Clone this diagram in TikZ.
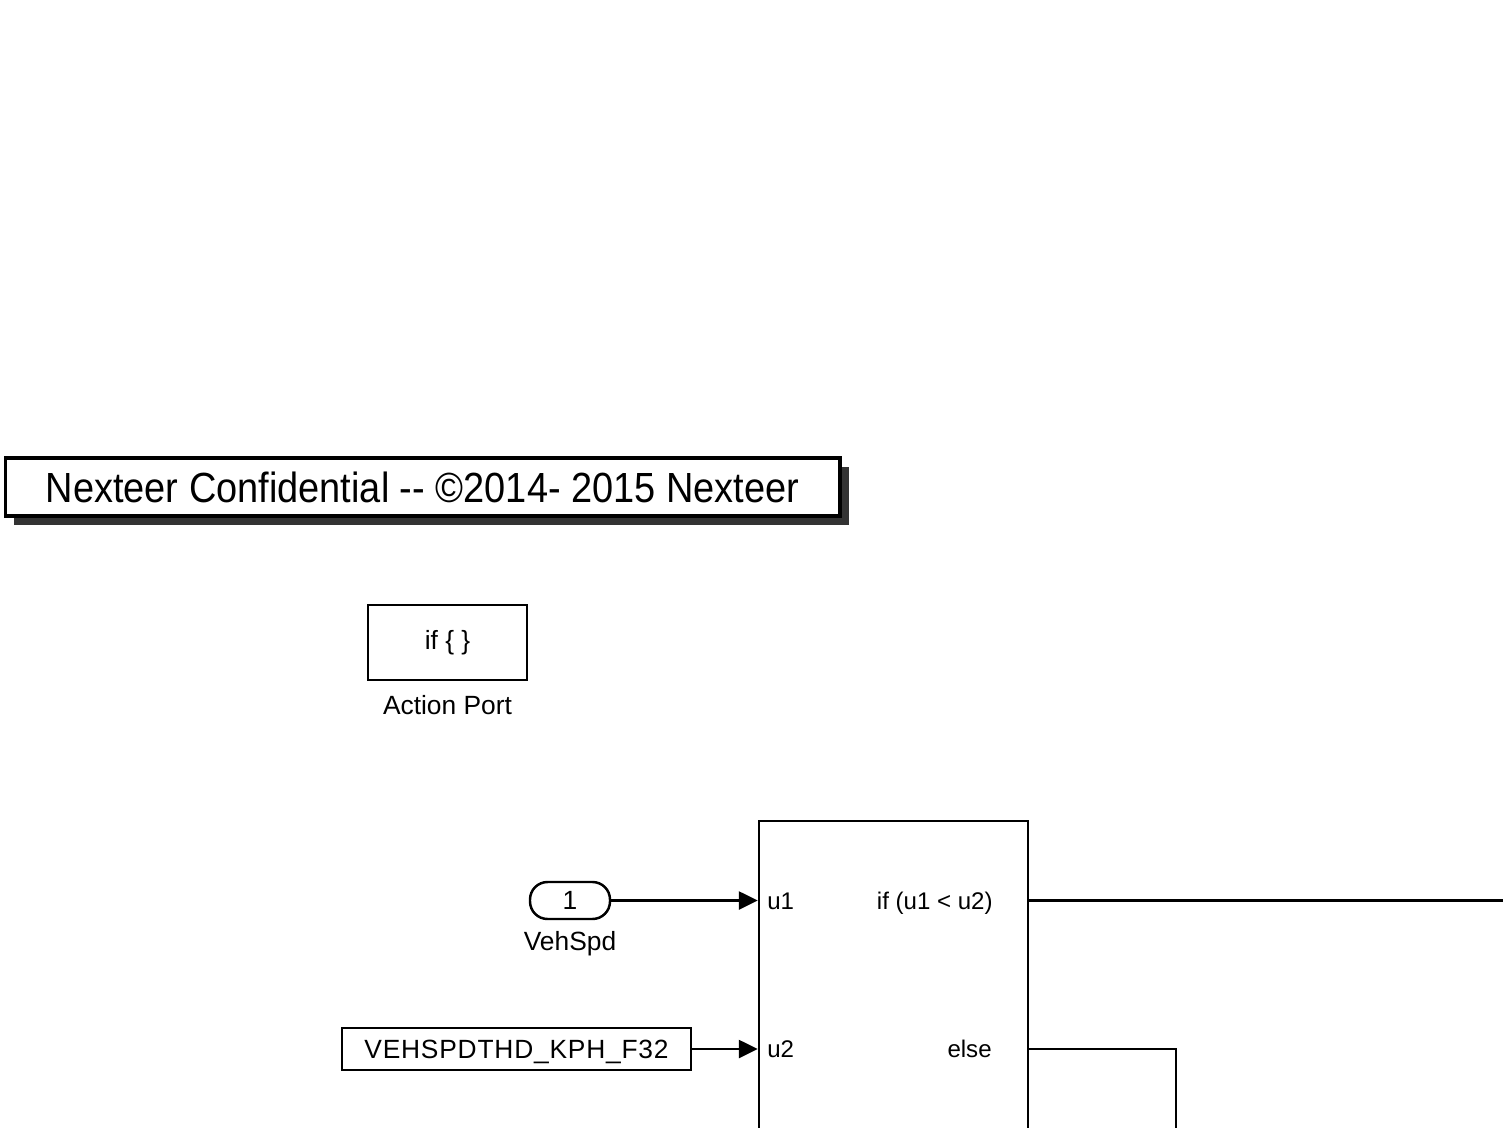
\documentclass[tikz,border=0pt]{standalone}
\usepackage{fontspec}
\setmainfont{Liberation Sans}
\newfontfamily\bannerfont[FakeStretch=0.9]{Liberation Sans}
\usetikzlibrary{arrows.meta,positioning,shadows}

\begin{document}
\begin{tikzpicture}[
  x=0.02cm, y=-0.02cm,
  font=\fontsize{15}{18}\selectfont,
  blk/.style={draw, line width=1.4pt, fill=white, inner sep=0pt, align=center},
  banner/.style={blk, line width=1.8pt, minimum width=16.7cm, minimum height=1.16cm, font=\bannerfont\fontsize{24}{28}\selectfont,
    drop shadow={shadow xshift=0.18cm, shadow yshift=-0.18cm, fill=black!80, opacity=1}},
  inport/.style={blk, rounded corners=0.35cm, minimum width=1.6cm, minimum height=0.74cm},
  lbl/.style={inner sep=0pt},
  portlbl/.style={inner sep=0pt, font=\fontsize{13.7}{16}\selectfont},
  sig/.style={line width=1.4pt, -{Triangle[length=0.38cm, width=0.36cm]}},
  wire/.style={line width=1.4pt}
]
\useasboundingbox (0,0) rectangle (1503,1128);
\clip (0,0) rectangle (1503,1128);

\node[banner] (banner) at (422.5,487) {Nexteer Confidential -{}- ©2014- 2015 Nexteer};

\node[blk, minimum width=3.18cm, minimum height=1.5cm] (actport) at (447.5,642.5) {if \{ \}};
\node[lbl] (actlbl) at (447.5,705) {Action Port};

\node[inport] (vehspd) at (570,900.5) {1};
\node[lbl] (vehlbl) at (570,944) {VehSpd};
\node[blk, minimum width=6.98cm, minimum height=0.84cm, text depth=0pt, font=\addfontfeature{LetterSpace=3}\fontsize{15}{18}\selectfont] (thd) at (516.5,1049) {VEHSPDTHD\_KPH\_F32};

% if block, runs past the lower edge
\node[blk, minimum width=5.38cm, minimum height=8cm] (ifblk) at (893.5,1021) {};
\node[portlbl, anchor=base west] (u1) at (767,909) {u1};
\node[portlbl, anchor=base west] (u2) at (767,1057) {u2};
\node[portlbl, anchor=base east] (ifact) at (993,909) {if (u1 < u2)};
\node[portlbl, anchor=base east] (elseact) at (992,1057) {else};

\coordinate (outR) at (1510,900.5);
\coordinate (elseD) at (1176,1140);

\foreach \a in {vehspd, thd}
  \draw[sig] (\a) -- (ifblk.west |- \a);
\draw[wire] (ifblk.east |- vehspd) -- (outR);
\draw[wire] (ifblk.east |- thd) -| (elseD);

\end{tikzpicture}
\end{document}
